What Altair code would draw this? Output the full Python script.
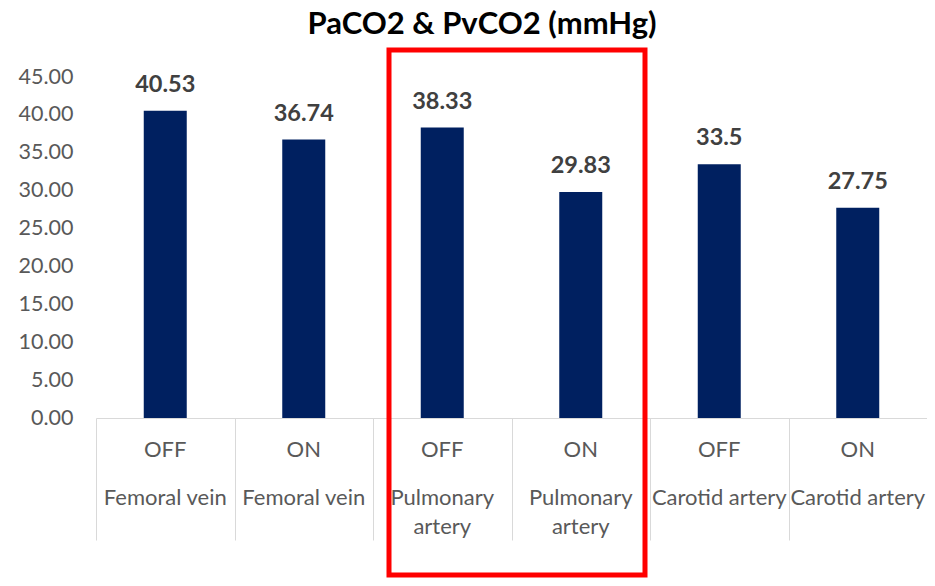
import altair as alt
import pandas as pd

title_text = "PaCO2 & PvCO2 (mmHg)"
states = ["OFF", "ON", "OFF", "ON", "OFF", "ON"]
locations = ["Femoral vein", "Femoral vein", "Pulmonary artery", "Pulmonary artery",
             "Carotid artery", "Carotid artery"]
location_lines = ["Femoral vein", "Femoral vein", "Pulmonary|artery", "Pulmonary|artery",
                  "Carotid artery", "Carotid artery"]
values = [40.53, 36.74, 38.33, 29.83, 33.5, 27.75]
value_labels = ["40.53", "36.74", "38.33", "29.83", "33.5", "27.75"]
y_ticks = [0, 5, 10, 15, 20, 25, 30, 35, 40, 45]

keys = [f"{s} {l}" for s, l in zip(states, locations)]
df = pd.DataFrame({
    "key": keys,
    "state": states,
    "loc": location_lines,
    "value": values,
    "vlabel": value_labels,
})

FONT = "Lato"
GRAY = "#595959"

x_enc = alt.X(
    "key:N", sort=keys,
    scale=alt.Scale(paddingInner=0, paddingOuter=0),
    axis=alt.Axis(title=None, labels=False, tickBand="extent", tickSize=122,
                  tickColor="#d9d9d9", tickWidth=1, domainColor="#d9d9d9", domainWidth=1),
)
y_enc = alt.Y(
    "value:Q",
    scale=alt.Scale(domain=[0, 45], nice=False),
    axis=alt.Axis(title=None, values=y_ticks, format=".2f", grid=False, domain=False,
                  ticks=False, labelFontSize=21.5, labelColor=GRAY, labelPadding=23,
                  labelFont=FONT, labelOverlap=False, tickCount=10),
)

base = alt.Chart(df)

bars = base.mark_bar(size=43, color="#002060").encode(x=x_enc, y=y_enc)

value_text = base.mark_text(
    font=FONT, fontSize=23.5, fontWeight="bold", color="#404040",
    baseline="alphabetic", dy=-19,
).encode(x=x_enc, y=y_enc, text="vlabel:N")

state_text = base.mark_text(
    font=FONT, fontSize=22, color=GRAY, baseline="alphabetic",
).encode(x=x_enc, y=alt.value(380), text="state:N")

loc_text = base.mark_text(
    font=FONT, fontSize=22, color=GRAY, baseline="alphabetic",
    lineBreak="|", lineHeight=29,
).encode(x=x_enc, y=alt.value(428), text="loc:N")

box = alt.Chart(pd.DataFrame({"a": [0]})).mark_rect(
    fillOpacity=0, stroke="#ff0000", strokeWidth=5,
).encode(x=alt.value(293), x2=alt.value(549), y=alt.value(-27), y2=alt.value(498))

title = alt.Chart(pd.DataFrame({"t": [title_text]})).mark_text(
    font=FONT, fontSize=31, fontWeight="bold", color="#000000",
    baseline="alphabetic", align="center",
).encode(x=alt.value(386), y=alt.value(-43), text="t:N")

chart = alt.layer(bars, value_text, state_text, loc_text, box, title).properties(
    width=831, height=341,
    autosize="none",
    padding={"left": 88, "top": 69, "right": 0, "bottom": 160},
).configure(background="white", view=alt.ViewConfig(stroke=None))

chart.save("out.html", embed_options={"renderer": "svg", "actions": False})
